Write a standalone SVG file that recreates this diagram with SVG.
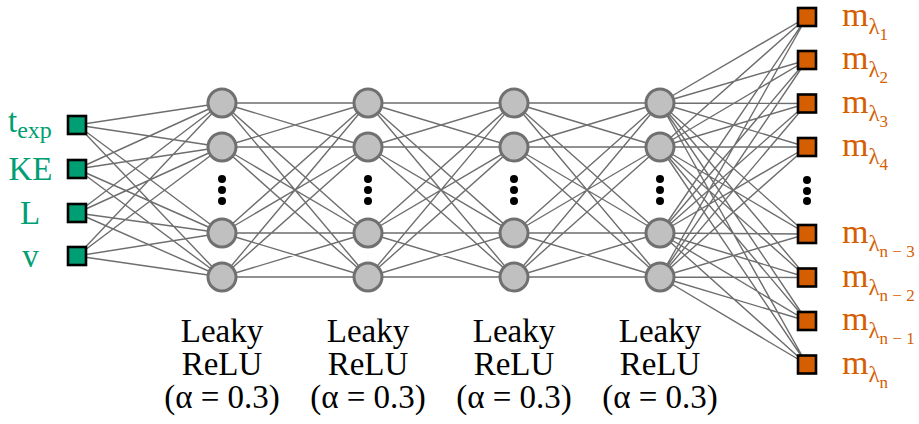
<svg xmlns="http://www.w3.org/2000/svg" width="919" height="424" viewBox="0 0 919 424">
<style>
.e{stroke:#6e6e6e;stroke-width:1.4;fill:none}
.h{fill:#c0c0c0;stroke:#707070;stroke-width:3}
.in{fill:#009e73;stroke:#000;stroke-width:2.6}
.out{fill:#d55e00;stroke:#000;stroke-width:2.6}
.d{fill:#000}
.tg{font-family:"Liberation Serif","Times New Roman",serif;font-size:33px;fill:#009e73}
.to{font-family:"Liberation Serif","Times New Roman",serif;font-size:34px;fill:#d55e00}
.tb{font-family:"Liberation Serif","Times New Roman",serif;font-size:33px;fill:#000;text-anchor:middle}
</style>
<g id="connectors">
<path class="e" d="M77 125L222 103M77 125L222 147M77 125L222 233M77 125L222 277
M77 169L222 103M77 169L222 147M77 169L222 233M77 169L222 277
M77 213L222 103M77 213L222 147M77 213L222 233M77 213L222 277
M77 256L222 103M77 256L222 147M77 256L222 233M77 256L222 277"/>
<path class="e" d="M222 103L368 103M222 103L368 147M222 103L368 233M222 103L368 277
M222 147L368 103M222 147L368 147M222 147L368 233M222 147L368 277
M222 233L368 103M222 233L368 147M222 233L368 233M222 233L368 277
M222 277L368 103M222 277L368 147M222 277L368 233M222 277L368 277"/>
<path class="e" d="M368 103L514 103M368 103L514 147M368 103L514 233M368 103L514 277
M368 147L514 103M368 147L514 147M368 147L514 233M368 147L514 277
M368 233L514 103M368 233L514 147M368 233L514 233M368 233L514 277
M368 277L514 103M368 277L514 147M368 277L514 233M368 277L514 277"/>
<path class="e" d="M514 103L660 103M514 103L660 147M514 103L660 233M514 103L660 277
M514 147L660 103M514 147L660 147M514 147L660 233M514 147L660 277
M514 233L660 103M514 233L660 147M514 233L660 233M514 233L660 277
M514 277L660 103M514 277L660 147M514 277L660 233M514 277L660 277"/>
<path class="e" d="M660 103L807 17M660 103L807 60M660 103L807 103.5M660 103L807 147M660 103L807 234M660 103L807 277.5M660 103L807 321M660 103L807 364.5
M660 147L807 17M660 147L807 60M660 147L807 103.5M660 147L807 147M660 147L807 234M660 147L807 277.5M660 147L807 321M660 147L807 364.5
M660 233L807 17M660 233L807 60M660 233L807 103.5M660 233L807 147M660 233L807 234M660 233L807 277.5M660 233L807 321M660 233L807 364.5
M660 277L807 17M660 277L807 60M660 277L807 103.5M660 277L807 147M660 277L807 234M660 277L807 277.5M660 277L807 321M660 277L807 364.5"/>
</g>
<g id="inputs">
<g id="in-texp"><rect class="in" x="68" y="116" width="18" height="18"/><text class="tg" x="8" y="132">t<tspan dy="6" font-size="24">exp</tspan></text></g>
<g id="in-KE"><rect class="in" x="68" y="160" width="18" height="18"/><text class="tg" x="30.5" y="180" text-anchor="middle">KE</text></g>
<g id="in-L"><rect class="in" x="68" y="204" width="18" height="18"/><text class="tg" x="30" y="224" text-anchor="middle">L</text></g>
<g id="in-v"><rect class="in" x="68" y="247" width="18" height="18"/><text class="tg" x="30.5" y="267" text-anchor="middle">v</text></g>
</g>
<g id="layer1">
<circle class="h" cx="222" cy="103" r="14"/><circle class="h" cx="222" cy="147" r="14"/><circle class="h" cx="222" cy="233" r="14"/><circle class="h" cx="222" cy="277" r="14"/>
<circle class="d" cx="222" cy="179" r="4"/><circle class="d" cx="222" cy="190" r="4"/><circle class="d" cx="222" cy="201" r="4"/>
<text class="tb" x="222" y="342">Leaky</text><text class="tb" x="222" y="375">ReLU</text><text class="tb" x="222" y="408">(α = 0.3)</text>
</g>
<g id="layer2">
<circle class="h" cx="368" cy="103" r="14"/><circle class="h" cx="368" cy="147" r="14"/><circle class="h" cx="368" cy="233" r="14"/><circle class="h" cx="368" cy="277" r="14"/>
<circle class="d" cx="368" cy="179" r="4"/><circle class="d" cx="368" cy="190" r="4"/><circle class="d" cx="368" cy="201" r="4"/>
<text class="tb" x="368" y="342">Leaky</text><text class="tb" x="368" y="375">ReLU</text><text class="tb" x="368" y="408">(α = 0.3)</text>
</g>
<g id="layer3">
<circle class="h" cx="514" cy="103" r="14"/><circle class="h" cx="514" cy="147" r="14"/><circle class="h" cx="514" cy="233" r="14"/><circle class="h" cx="514" cy="277" r="14"/>
<circle class="d" cx="514" cy="179" r="4"/><circle class="d" cx="514" cy="190" r="4"/><circle class="d" cx="514" cy="201" r="4"/>
<text class="tb" x="514" y="342">Leaky</text><text class="tb" x="514" y="375">ReLU</text><text class="tb" x="514" y="408">(α = 0.3)</text>
</g>
<g id="layer4">
<circle class="h" cx="660" cy="103" r="14"/><circle class="h" cx="660" cy="147" r="14"/><circle class="h" cx="660" cy="233" r="14"/><circle class="h" cx="660" cy="277" r="14"/>
<circle class="d" cx="660" cy="179" r="4"/><circle class="d" cx="660" cy="190" r="4"/><circle class="d" cx="660" cy="201" r="4"/>
<text class="tb" x="660" y="342">Leaky</text><text class="tb" x="660" y="375">ReLU</text><text class="tb" x="660" y="408">(α = 0.3)</text>
</g>
<g id="outputs">
<g id="out1"><rect class="out" x="798" y="8" width="18" height="18"/><text class="to" x="842" y="26">m<tspan dy="8" font-size="23">λ</tspan><tspan dy="6" font-size="17">1</tspan></text></g>
<g id="out2"><rect class="out" x="798" y="51" width="18" height="18"/><text class="to" x="842" y="69">m<tspan dy="8" font-size="23">λ</tspan><tspan dy="6" font-size="17">2</tspan></text></g>
<g id="out3"><rect class="out" x="798" y="94.5" width="18" height="18"/><text class="to" x="842" y="112.5">m<tspan dy="8" font-size="23">λ</tspan><tspan dy="6" font-size="17">3</tspan></text></g>
<g id="out4"><rect class="out" x="798" y="138" width="18" height="18"/><text class="to" x="842" y="156">m<tspan dy="8" font-size="23">λ</tspan><tspan dy="6" font-size="17">4</tspan></text></g>
<circle class="d" cx="807" cy="180" r="4"/><circle class="d" cx="807" cy="191" r="4"/><circle class="d" cx="807" cy="201" r="4"/>
<g id="out5"><rect class="out" x="798" y="225" width="18" height="18"/><text class="to" x="842" y="243">m<tspan dy="8" font-size="23">λ</tspan><tspan dy="6" font-size="17">n − 3</tspan></text></g>
<g id="out6"><rect class="out" x="798" y="268.5" width="18" height="18"/><text class="to" x="842" y="286.5">m<tspan dy="8" font-size="23">λ</tspan><tspan dy="6" font-size="17">n − 2</tspan></text></g>
<g id="out7"><rect class="out" x="798" y="312" width="18" height="18"/><text class="to" x="842" y="330">m<tspan dy="8" font-size="23">λ</tspan><tspan dy="6" font-size="17">n − 1</tspan></text></g>
<g id="out8"><rect class="out" x="798" y="355.5" width="18" height="18"/><text class="to" x="842" y="373.5">m<tspan dy="8" font-size="23">λ</tspan><tspan dy="6" font-size="17">n</tspan></text></g>
</g>
</svg>
